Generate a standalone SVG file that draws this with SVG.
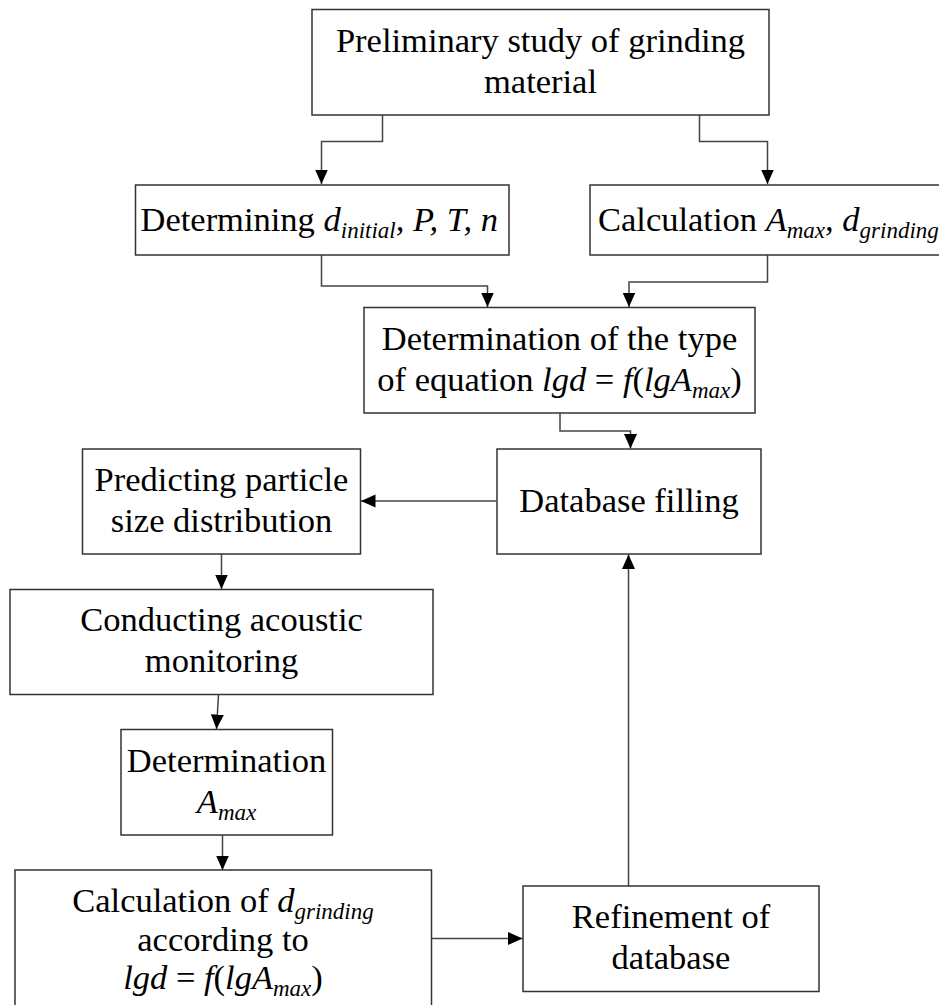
<svg xmlns="http://www.w3.org/2000/svg" width="939" height="1005" viewBox="0 0 939 1005">
<style>
.box{fill:#fff;stroke:#333;stroke-width:1.5}
.t{font-family:"Liberation Serif","Times New Roman",serif;font-size:34.5px;fill:#000;text-anchor:middle}
.ts{font-family:"Liberation Serif","Times New Roman",serif;font-size:34.5px;fill:#000}
.i{font-style:italic}
.sub{font-style:italic;font-size:23px}
.c{fill:none;stroke:#444;stroke-width:1.5}
</style>
<defs>
<marker id="ah" markerUnits="userSpaceOnUse" markerWidth="15" markerHeight="15" viewBox="0 0 15 14" refX="14.5" refY="7" orient="auto">
<path d="M0,0.5 L14.5,7 L0,13.5 Z" fill="#000"/>
</marker>
</defs>
<rect width="939" height="1005" fill="#fff"/>
<g id="connectors">
<path class="c" d="M382.5,115 V141.5 H321.5 V184" marker-end="url(#ah)"/>
<path class="c" d="M699.5,115 V141.5 H767.5 V184" marker-end="url(#ah)"/>
<path class="c" d="M321.5,255 V286 H487.5 V307" marker-end="url(#ah)"/>
<path class="c" d="M767.5,255 V282 H629 V307" marker-end="url(#ah)"/>
<path class="c" d="M560,413 V431 H630.5 V448.5" marker-end="url(#ah)"/>
<path class="c" d="M496.5,501 H361" marker-end="url(#ah)"/>
<path class="c" d="M221.5,554 V589" marker-end="url(#ah)"/>
<path class="c" d="M218.5,694.5 L216.5,729" marker-end="url(#ah)"/>
<path class="c" d="M222.5,835 V870" marker-end="url(#ah)"/>
<path class="c" d="M431.5,938.5 H522.5" marker-end="url(#ah)"/>
<path class="c" d="M628.5,886 V554.5" marker-end="url(#ah)"/>
</g>
<g id="n1">
<rect class="box" x="312" y="9.5" width="457" height="105.5"/>
<text class="t" x="540.5" y="52">Preliminary study of grinding</text>
<text class="t" x="540.5" y="93">material</text>
</g>
<g id="n2">
<rect class="box" x="135.5" y="185" width="373.5" height="70"/>
<text class="ts" x="140.5" y="231">Determining <tspan class="i">d</tspan><tspan class="sub" dy="7">initial</tspan><tspan class="i" dy="-7">, P, T, n</tspan></text>
</g>
<g id="n3">
<rect class="box" x="590" y="185" width="360" height="70"/>
<text class="ts" x="598" y="231">Calculation <tspan class="i">A</tspan><tspan class="sub" dy="7">max</tspan><tspan class="i" dy="-7">, d</tspan><tspan class="sub" dy="7">grinding</tspan></text>
</g>
<g id="n4">
<rect class="box" x="364" y="307.5" width="391" height="105.5"/>
<text class="t" x="559.5" y="350">Determination of the type</text>
<text class="t" x="559.5" y="391">of equation <tspan class="i">lgd</tspan> = <tspan class="i">f</tspan>(<tspan class="i">lgA</tspan><tspan class="sub" dy="7">max</tspan><tspan dy="-7">)</tspan></text>
</g>
<g id="n5">
<rect class="box" x="497" y="449" width="264" height="105"/>
<text class="t" x="629" y="512">Database filling</text>
</g>
<g id="n6">
<rect class="box" x="82.5" y="449" width="278" height="105"/>
<text class="t" x="221.5" y="491">Predicting particle</text>
<text class="t" x="221.5" y="532">size distribution</text>
</g>
<g id="n7">
<rect class="box" x="10" y="589.5" width="423" height="105"/>
<text class="t" x="221.5" y="631">Conducting acoustic</text>
<text class="t" x="221.5" y="672">monitoring</text>
</g>
<g id="n8">
<rect class="box" x="121" y="729.5" width="211.5" height="105.5"/>
<text class="t" x="226.5" y="772">Determination</text>
<text class="t" x="226.5" y="813"><tspan class="i">A</tspan><tspan class="sub" dy="7">max</tspan></text>
</g>
<g id="n9">
<rect class="box" x="15" y="870" width="416.5" height="145"/>
<text class="t" x="223" y="912">Calculation of <tspan class="i">d</tspan><tspan class="sub" dy="7">grinding</tspan></text>
<text class="t" x="223" y="951">according to</text>
<text class="t" x="223" y="989"><tspan class="i">lgd</tspan> = <tspan class="i">f</tspan>(<tspan class="i">lgA</tspan><tspan class="sub" dy="7">max</tspan><tspan dy="-7">)</tspan></text>
</g>
<g id="n10">
<rect class="box" x="523" y="886" width="296" height="105.5"/>
<text class="t" x="671" y="928">Refinement of</text>
<text class="t" x="671" y="969">database</text>
</g>
</svg>
